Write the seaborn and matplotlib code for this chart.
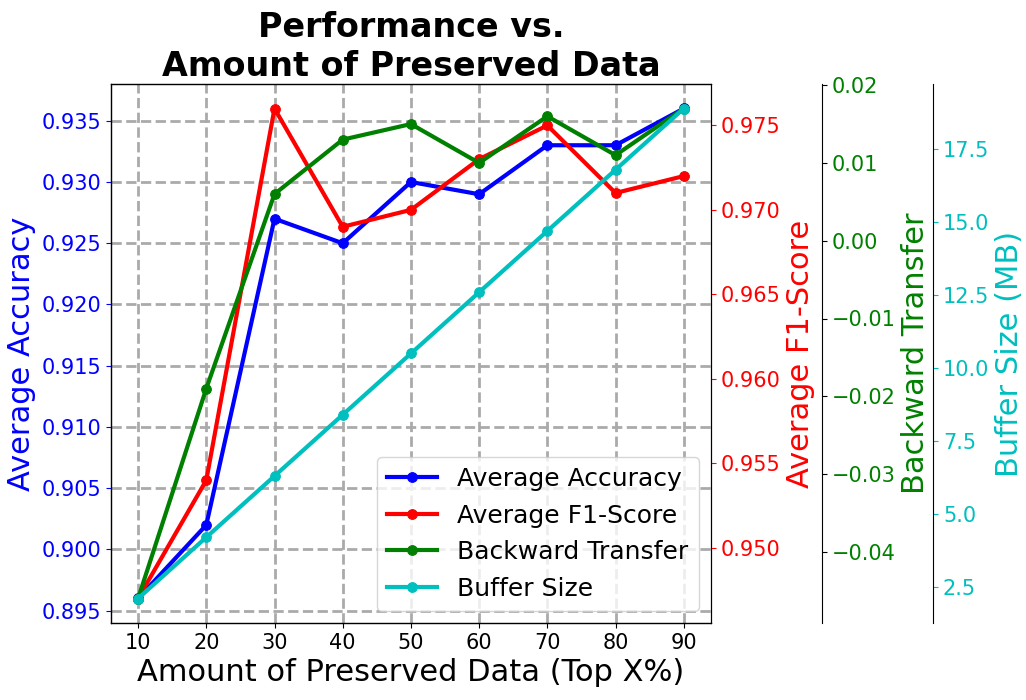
import matplotlib
matplotlib.use("Agg")
import matplotlib.pyplot as plt
import pandas as pd
import seaborn as sns

# values
preserved = [10, 20, 30, 40, 50, 60, 70, 80, 90]
avg_accuracy = [0.896, 0.902, 0.927, 0.925, 0.930, 0.929, 0.933, 0.933, 0.936]
avg_f1 = [0.947, 0.954, 0.976, 0.969, 0.970, 0.973, 0.975, 0.971, 0.972]
backward_transfer = [-0.046, -0.019, 0.006, 0.013, 0.015, 0.010, 0.016, 0.011, 0.017]
buffer_size = [2.1, 4.2, 6.3, 8.4, 10.5, 12.6, 14.7, 16.8, 18.9]

df = pd.DataFrame({
    'preserved': preserved,
    'acc': avg_accuracy,
    'f1': avg_f1,
    'bwt': backward_transfer,
    'buffer': buffer_size,
})

fig, ax = plt.subplots(figsize=(10.26, 7.0), dpi=100)
fig.subplots_adjust(left=0.108, right=0.693, top=0.88, bottom=0.11)

ax2 = ax.twinx()
ax3 = ax.twinx()
ax4 = ax.twinx()
ax3.spines['right'].set_position(('outward', 80))
ax4.spines['right'].set_position(('outward', 160))

series = [
    (ax, 'acc', 'b', 'Average Accuracy', 'Average Accuracy'),
    (ax2, 'f1', 'r', 'Average F1-Score', 'Average F1-Score'),
    (ax3, 'bwt', 'g', 'Backward Transfer', 'Backward Transfer'),
    (ax4, 'buffer', 'c', 'Buffer Size', 'Buffer Size (MB)'),
]

handles, labels = [], []
for a, col, color, label, ylabel in series:
    sns.lineplot(data=df, x='preserved', y=col, ax=a, color=color, marker='o',
                 linewidth=3, markersize=7, markeredgecolor=color, label=label)
    if a.get_legend() is not None:
        a.get_legend().remove()
    h, l = a.get_legend_handles_labels()
    handles += h
    labels += l
    a.set_ylabel(ylabel, color=color, fontsize=22)
    a.set_xlabel('')

ax.tick_params(axis='y', colors='b', labelsize=15)
ax2.tick_params(axis='y', colors='r', labelsize=15)
ax3.tick_params(axis='y', labelcolor='g', labelsize=15)
ax4.tick_params(axis='y', colors='c', labelsize=15)
ax.tick_params(axis='x', labelsize=15)

ax.set_xticks(preserved)
ax.grid(True, linestyle='--', linewidth=2, color='#aaaaaa')
ax.set_xlabel('Amount of Preserved Data (Top X%)', fontsize=22)
ax.set_title('Performance vs.\nAmount of Preserved Data', fontsize=24, fontweight='bold')

ax4.legend(handles, labels, loc='lower right', fontsize=18)

fig.savefig('out.png', dpi=100)
